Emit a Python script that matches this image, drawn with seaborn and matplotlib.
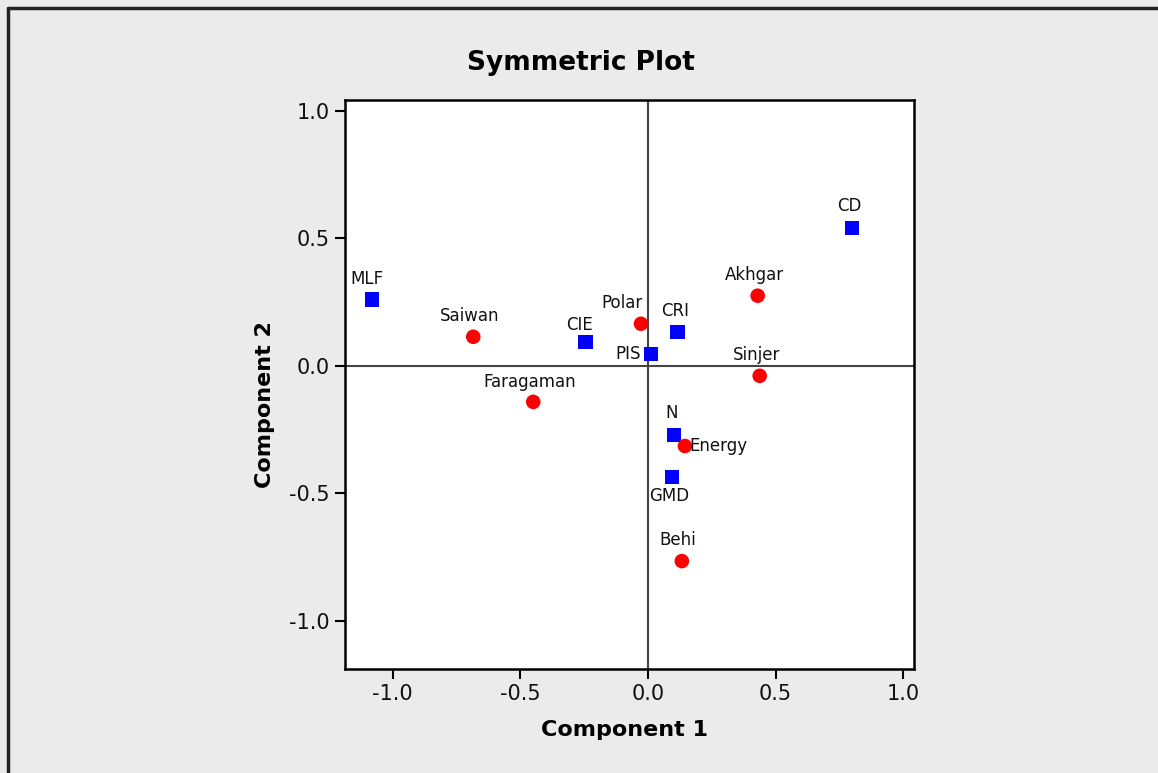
import matplotlib
matplotlib.use("Agg")
import matplotlib.pyplot as plt
import pandas as pd
import seaborn as sns

# coordinate
names = ["MLF", "CIE", "CRI", "PIS", "CD", "N", "GMD",
         "Saiwan", "Polar", "Faragaman", "Akhgar", "Sinjer", "Energy", "Behi"]
comp1 = [-1.08, -0.245, 0.117, 0.012, 0.80, 0.102, 0.094,
         -0.684, -0.027, -0.449, 0.430, 0.438, 0.145, 0.133]
comp2 = [0.259, 0.094, 0.133, 0.047, 0.541, -0.271, -0.435,
         0.114, 0.165, -0.141, 0.275, -0.039, -0.314, -0.765]
kind = ["col"] * 7 + ["row"] * 7

df = pd.DataFrame({"x": comp1, "y": comp2, "name": names, "kind": kind})

# spostamento etichette in pixel (dx, dy, ha, va)
label_pos = {
    "MLF": (-5, 12, "center", "bottom"),
    "Saiwan": (-4, 12, "center", "bottom"),
    "CIE": (-6, 8, "center", "bottom"),
    "Polar": (-19, 12, "center", "bottom"),
    "CRI": (-3, 12, "center", "bottom"),
    "PIS": (-10, 0, "right", "center"),
    "Faragaman": (-4, 11, "center", "bottom"),
    "Akhgar": (-3, 12, "center", "bottom"),
    "CD": (-3, 13, "center", "bottom"),
    "Sinjer": (-3, 12, "center", "bottom"),
    "N": (-2, 13, "center", "bottom"),
    "Energy": (4, 0, "left", "center"),
    "GMD": (-3, -10, "center", "top"),
    "Behi": (-4, 12, "center", "bottom"),
}

sns.set_style("white")
plt.rcParams['font.family'] = ['DejaVu Sans']

fig = plt.figure(figsize=(11.58, 7.73), dpi=100)
fig.patch.set_facecolor("#ebebeb")
ax = fig.add_axes([0.298, 0.1345, 0.491, 0.7365])
ax.set_facecolor("white")

ax.axhline(0, color="#444444", lw=1.5, zorder=1)
ax.axvline(0, color="#444444", lw=1.5, zorder=1)

sns.scatterplot(data=df, x="x", y="y", hue="kind", style="kind",
                markers={"col": "s", "row": "o"},
                palette={"col": "#0000ff", "row": "#ff0000"},
                s=110, linewidth=0, legend=False, ax=ax, zorder=3)

for n, xv, yv in zip(names, comp1, comp2):
    dx, dy, ha, va = label_pos[n]
    ax.annotate(n, (xv, yv), xytext=(dx, dy), textcoords="offset pixels",
                ha=ha, va=va, fontsize=12, color="#111111", zorder=4)

ax.set_xlim(-1.186, 1.041)
ax.set_ylim(-1.188, 1.043)
ax.set_xticks([-1.0, -0.5, 0.0, 0.5, 1.0])
ax.set_yticks([-1.0, -0.5, 0.0, 0.5, 1.0])
ax.set_xticklabels(["-1.0", "-0.5", "0.0", "0.5", "1.0"])
ax.set_yticklabels(["-1.0", "-0.5", "0.0", "0.5", "1.0"])
ax.tick_params(axis="both", direction="out", length=7, width=1.5,
               labelsize=15, color="black", labelcolor="#111111", pad=4,
               bottom=True, left=True)
for sp in ax.spines.values():
    sp.set_color("black")
    sp.set_linewidth(1.8)
ax.set_xlabel("")
ax.set_ylabel("")

fig.text(0.502, 0.918, "Symmetric Plot", ha="center", va="center",
         fontsize=19, fontweight="bold", color="black")
fig.text(0.539, 0.055, "Component 1", ha="center", va="center",
         fontsize=16, fontweight="bold", color="black")
fig.text(0.229, 0.476, "Component 2", ha="center", va="center",
         fontsize=16, fontweight="bold", rotation=90, color="black")

# bordo sinistro e superiore
fig.add_artist(plt.Line2D([0.0065, 0.0065], [0.0, 0.990], color="#222222", lw=2.5,
                          transform=fig.transFigure))
fig.add_artist(plt.Line2D([0.0065, 1.0], [0.990, 0.990], color="#222222", lw=2.5,
                          transform=fig.transFigure))

fig.savefig("out.png", dpi=100, facecolor=fig.get_facecolor())
